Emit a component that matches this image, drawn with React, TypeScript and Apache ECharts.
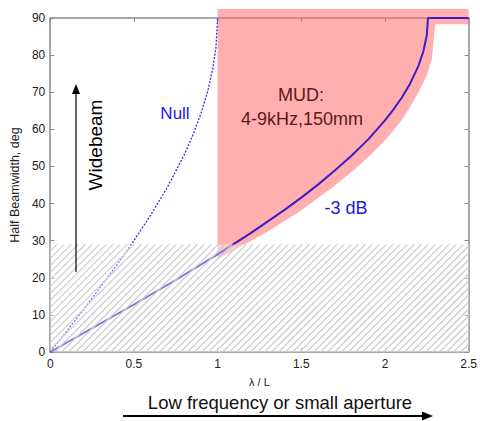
import React, { useEffect, useRef } from "react";
import * as echarts from "echarts";

// -3 dB half beamwidth curve
const ratio3dB = [0, 0.25, 0.5, 0.75, 1.0, 1.1, 1.2, 1.3, 1.4, 1.5, 1.6, 1.7, 1.8, 1.9, 2.0, 2.05, 2.1, 2.15, 2.2, 2.23, 2.25, 2.257, 2.5];
const beam3dB = [0, 6.4, 12.8, 19.4, 26.3, 29.2, 32.1, 35.2, 38.3, 41.6, 45.1, 48.9, 52.9, 57.3, 62.4, 65.3, 68.5, 72.3, 77.1, 81.1, 85.4, 90, 90];

// Null curve
const ratioNull = [0, 0.1, 0.2, 0.3, 0.4, 0.5, 0.6, 0.7, 0.8, 0.85, 0.9, 0.94, 0.97, 0.99, 1.0];
const beamNull = [0, 5.7, 11.5, 17.5, 23.6, 30, 36.9, 44.4, 53.1, 58.2, 64.2, 70.1, 76.1, 81.9, 90];

// MUD region outline
const mudX = [1.0, 1.1, 1.2, 1.3, 1.4, 1.5, 1.6, 1.7, 1.8, 1.9, 2.0, 2.05, 2.1, 2.15, 2.2, 2.25, 2.28, 2.3, 2.5, 2.5, 1.0];
const mudY = [25, 27.5, 30, 32.5, 35.3, 38.2, 41.5, 44.8, 48.5, 52.5, 57, 59.7, 62.5, 66, 70, 74.5, 79, 88.3, 88.3, 92.4, 92.4];

// Hatched (excluded) region
const hatchX = [0, 2.5];
const hatchY = [0, 29];

const xTicks = [0, 0.5, 1, 1.5, 2, 2.5];
const yTicks = [0, 10, 20, 30, 40, 50, 60, 70, 80, 90];

const FONT = "'Liberation Sans', Arial, Helvetica, sans-serif";

export default function App() {
  const ref = useRef<HTMLDivElement>(null);
  useEffect(() => {
    document.body.style.margin = "0";
    const chart = echarts.init(ref.current!, undefined, { renderer: "svg" });
    const axisColor = "#8a8a8a";
    const labelColor = "#222";
    const baseX = {
      type: "value",
      min: xTicks[0],
      max: xTicks[xTicks.length - 1],
      interval: 0.5,
      splitLine: { show: false },
      axisLine: { show: true, onZero: false, lineStyle: { color: axisColor, width: 1.5 } },
      axisTick: { show: true, inside: true, length: 4, lineStyle: { color: axisColor } },
    };
    const baseY = {
      type: "value",
      min: yTicks[0],
      max: yTicks[yTicks.length - 1],
      interval: 10,
      splitLine: { show: false },
      axisLine: { show: true, onZero: false, lineStyle: { color: axisColor, width: 1.5 } },
      axisTick: { show: true, inside: true, length: 4, lineStyle: { color: axisColor } },
    };
    const option: any = {
      animation: false,
      textStyle: { fontFamily: FONT },
      grid: { left: 49, right: 10, top: 18, bottom: 69, containLabel: false },
      xAxis: [
        {
          ...baseX,
          position: "bottom",
          axisLabel: { color: labelColor, fontSize: 12, fontFamily: FONT, margin: 6 },
          name: "λ / L",
          nameLocation: "middle",
          nameGap: 24,
          nameTextStyle: { color: labelColor, fontSize: 11, fontFamily: FONT },
        },
        { ...baseX, position: "top", axisLabel: { show: false } },
      ],
      yAxis: [
        {
          ...baseY,
          position: "left",
          axisLabel: { color: labelColor, fontSize: 12, fontFamily: FONT, margin: 5 },
          name: "Half Beamwidth, deg",
          nameLocation: "middle",
          nameGap: 23,
          nameTextStyle: { color: labelColor, fontSize: 12.5, fontFamily: FONT },
        },
        { ...baseY, position: "right", axisLabel: { show: false } },
      ],
      series: [
        {
          type: "custom",
          clip: false,
          z: 1,
          data: [[0, 0]],
          renderItem: (params: any, api: any) => {
            const pts = mudX.map((x, i) => api.coord([x, mudY[i]]));
            return {
              type: "polygon",
              shape: { points: pts },
              style: { fill: "rgba(255,110,110,0.55)", stroke: "none" },
            };
          },
        },
        {
          type: "line",
          data: ratioNull.map((x, i) => [x, beamNull[i]]),
          symbol: "none",
          clip: false,
          z: 3,
          lineStyle: { color: "#2a2aff", width: 1.3, type: [2, 1.5] },
        },
        {
          type: "line",
          data: ratio3dB.map((x, i) => [x, beam3dB[i]]),
          symbol: "none",
          clip: false,
          z: 4,
          lineStyle: { color: "#3c1fc4", width: 2 },
        },
        {
          type: "custom",
          clip: false,
          z: 10,
          data: [[0, 0]],
          renderItem: (params: any, api: any) => {
            const tl = api.coord([hatchX[0], hatchY[1]]);
            const br = api.coord([hatchX[1], hatchY[0]]);
            const x0 = tl[0], y0 = tl[1], x1 = br[0], y1 = br[1];
            const children: any[] = [
              {
                type: "rect",
                shape: { x: x0, y: y0, width: x1 - x0, height: y1 - y0 },
                style: { fill: "rgba(255,255,255,0.38)", stroke: "none" },
              },
            ];
            const step = 7;
            for (let c = x0 + y0 + step; c < x1 + y1; c += step) {
              const sx = Math.max(x0, c - y1);
              const ex = Math.min(x1, c - y0);
              if (ex <= sx) continue;
              children.push({
                type: "line",
                shape: { x1: sx, y1: c - sx, x2: ex, y2: c - ex },
                style: { stroke: "#cdcdcd", lineWidth: 1.3 },
              });
            }
            return { type: "group", children };
          },
        },
      ],
      graphic: [
        { type: "line", z: 100, shape: { x1: 76, y1: 272, x2: 76, y2: 92 }, style: { stroke: "#000", lineWidth: 1.2 } },
        { type: "polygon", z: 100, shape: { points: [[76, 84], [72, 94], [80, 94]] }, style: { fill: "#000" } },
        {
          type: "text",
          x: 95,
          y: 145,
          z: 100,
          rotation: Math.PI / 2,
          style: { text: "Widebeam", fill: "#000", font: `19px ${FONT}`, align: "center", verticalAlign: "middle" },
        },
        { type: "line", z: 100, shape: { x1: 123, y1: 416, x2: 424, y2: 416 }, style: { stroke: "#000", lineWidth: 1.8 } },
        { type: "polygon", z: 100, shape: { points: [[433, 416], [422, 411.5], [422, 420.5]] }, style: { fill: "#000" } },
        {
          type: "text",
          x: 280,
          y: 402,
          z: 100,
          style: { text: "Low frequency or small aperture", fill: "#111", font: `18.5px ${FONT}`, align: "center", verticalAlign: "middle" },
        },
        {
          type: "text",
          x: 175,
          y: 113,
          z: 100,
          style: { text: "Null", fill: "#2020ee", font: `17px ${FONT}`, align: "center", verticalAlign: "middle" },
        },
        {
          type: "text",
          x: 301,
          y: 95,
          z: 100,
          style: { text: "MUD:", fill: "#5a1818", font: `18px ${FONT}`, align: "center", verticalAlign: "middle" },
        },
        {
          type: "text",
          x: 302,
          y: 119,
          z: 100,
          style: { text: "4-9kHz,150mm", fill: "#5a1818", font: `18px ${FONT}`, align: "center", verticalAlign: "middle" },
        },
        {
          type: "text",
          x: 346,
          y: 208,
          z: 100,
          style: { text: "-3 dB", fill: "#1a1add", font: `18px ${FONT}`, align: "center", verticalAlign: "middle" },
        },
      ],
    };
    chart.setOption(option);
    return () => chart.dispose();
  }, []);
  return <div ref={ref} style={{ width: 480, height: 421 }} />;
}
